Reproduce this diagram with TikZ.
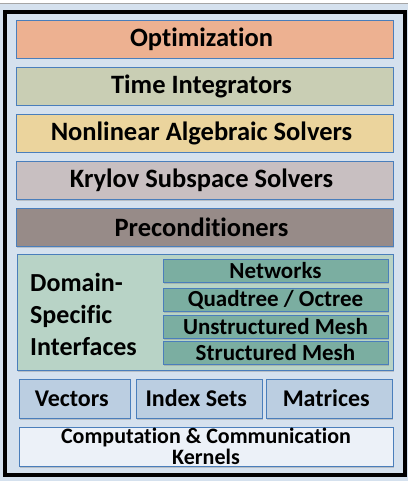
\documentclass[tikz,border=0pt]{standalone}
\usepackage{fontspec}
\setmainfont{Carlito}[Ligatures=NoCommon]
\usetikzlibrary{shadows}

\definecolor{fondo}{HTML}{D5E1EE}
\definecolor{borde}{HTML}{4A7EBB}
\definecolor{optc}{HTML}{EDB191}
\definecolor{timec}{HTML}{C9CEB4}
\definecolor{nonlc}{HTML}{EBD49D}
\definecolor{krylc}{HTML}{C8BFC1}
\definecolor{precc}{HTML}{978B88}
\definecolor{domc}{HTML}{B8D3C6}
\definecolor{mallc}{HTML}{7BAEA1}
\definecolor{basec}{HTML}{BBCEE1}
\definecolor{kernc}{HTML}{ECF1F8}

\begin{document}
\begin{tikzpicture}[x=1pt,y=-1pt,
	capa/.style={draw=borde, line width=0.8pt, align=center, inner sep=0pt,
		font=\bfseries\fontsize{26.5}{28}\selectfont,
		drop shadow={shadow xshift=1pt, shadow yshift=-1.5pt, opacity=0.35}},
	malla/.style={capa, minimum width=225pt, minimum height=23pt, fill=mallc,
		font=\bfseries\fontsize{23}{24}\selectfont}]
	\useasboundingbox (0,0) rectangle (408,481);
	\fill[white] (0,0) rectangle (408,3);
	\fill[fondo] (0,3) rectangle (408,481);
	\draw[gray!70] (0,3) -- (408,3);
	\draw[line width=4pt] (4.5,12) rectangle (405,475);
	
	\draw (204.5,39) node[capa, fill=optc, minimum width=377pt, minimum height=38pt] (optim)
	{
		Optimization
	};
	
	\draw (204.5,86) node[capa, fill=timec, minimum width=377pt, minimum height=38pt] (tiempo)
	{
		Time Integrators
	};
	
	\draw (204.5,133) node[capa, fill=nonlc, minimum width=377pt, minimum height=38pt] (nolineal)
	{
		Nonlinear Algebraic Solvers
	};
	
	\draw (204.5,180) node[capa, fill=krylc, minimum width=377pt, minimum height=38pt] (krylov)
	{
		Krylov Subspace Solvers
	};
	
	\draw (204.5,227) node[capa, fill=precc, minimum width=377pt, minimum height=38pt] (precond)
	{
		Preconditioners
	};
	
	\draw (205,312) node[capa, fill=domc, minimum width=376pt, minimum height=116pt] (dominio) {};
	
	\draw (30,314) node[anchor=west, align=left, inner sep=0pt,
		font=\bfseries\fontsize{26}{32}\selectfont] (dominiotxt)
	{
		Domain-\\
		Specific\\
		Interfaces
	};
	
	\draw (275.5,270.5) node[malla] (redes) {Networks};
	\draw (275.5,299.5) node[malla] (arboles) {Quadtree / Octree};
	\draw (275.5,326.5) node[malla] (noestr) {Unstructured Mesh};
	\draw (275.5,353) node[malla] (estr) {Structured Mesh};
	
	\draw (74.5,398.5) node[capa, fill=basec, minimum width=111pt, minimum height=39pt,
		font=\bfseries\fontsize{24}{26}\selectfont] (vectores)
	{
		Vectors
	};
	
	\draw (199,398.5) node[capa, fill=basec, minimum width=126pt, minimum height=39pt,
		font=\bfseries\fontsize{24}{26}\selectfont] (indices)
	{
		Index Sets
	};
	
	\draw (329,398.5) node[capa, fill=basec, minimum width=126pt, minimum height=39pt,
		font=\bfseries\fontsize{24}{26}\selectfont] (matrices)
	{
		Matrices
	};
	
	\draw (206,446.5) node[capa, fill=kernc, minimum width=374pt, minimum height=39pt,
		font=\bfseries\fontsize{22}{21}\selectfont] (nucleos)
	{
		Computation \& Communication\\
		Kernels
	};
\end{tikzpicture}
\end{document}
